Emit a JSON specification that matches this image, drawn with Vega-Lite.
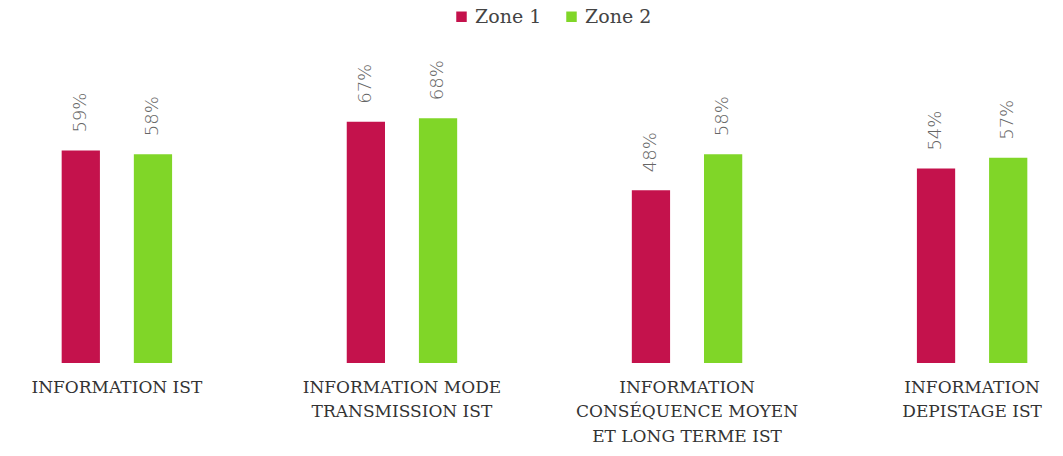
{
  "$schema": "https://vega.github.io/schema/vega-lite/v6.json",
  "width": 1089,
  "height": 324,
  "autosize": "none",
  "padding": {"left": 0, "right": 0, "top": 39, "bottom": 93},
  "background": "white",
  "data": {
    "values": [
      {"category": "INFORMATION IST", "zone": "Zone 1", "value": 0.59},
      {"category": "INFORMATION IST", "zone": "Zone 2", "value": 0.58},
      {"category": "INFORMATION MODE\nTRANSMISSION IST", "zone": "Zone 1", "value": 0.67},
      {"category": "INFORMATION MODE\nTRANSMISSION IST", "zone": "Zone 2", "value": 0.68},
      {"category": "INFORMATION\nCONSÉQUENCE MOYEN\nET LONG TERME IST", "zone": "Zone 1", "value": 0.48},
      {"category": "INFORMATION\nCONSÉQUENCE MOYEN\nET LONG TERME IST", "zone": "Zone 2", "value": 0.58},
      {"category": "INFORMATION\nDEPISTAGE IST", "zone": "Zone 1", "value": 0.54},
      {"category": "INFORMATION\nDEPISTAGE IST", "zone": "Zone 2", "value": 0.57}
    ]
  },
  "encoding": {
    "x": {
      "field": "category",
      "type": "nominal",
      "sort": null,
      "scale": {"paddingInner": 0.4, "paddingOuter": 0.11},
      "axis": {
        "title": null,
        "labelAngle": 0,
        "domain": false,
        "ticks": false,
        "labelPadding": 16,
        "labelFont": "DejaVu Serif",
        "labelFontSize": 17,
        "labelColor": "#333333",
        "labelLineHeight": 24.5,
        "labelLimit": 0,
        "labelExpr": "split(datum.value, '\\n')"
      }
    },
    "xOffset": {
      "field": "zone",
      "type": "nominal",
      "scale": {"paddingInner": 0.47, "paddingOuter": 0.42}
    },
    "y": {
      "field": "value",
      "type": "quantitative",
      "scale": {"domain": [0, 0.9]},
      "axis": null
    }
  },
  "layer": [
    {
      "mark": {"type": "bar"},
      "encoding": {
        "color": {
          "field": "zone",
          "type": "nominal",
          "scale": {"domain": ["Zone 1", "Zone 2"], "range": ["#c4124c", "#80d628"]},
          "legend": {
            "title": null,
            "orient": "none",
            "legendX": 452,
            "legendY": -32,
            "direction": "horizontal",
            "symbolType": "square",
            "symbolSize": 110,
            "symbolStrokeWidth": 0,
            "labelFont": "DejaVu Serif",
            "labelFontSize": 19,
            "labelColor": "#444444",
            "columnPadding": 20
          }
        }
      }
    },
    {
      "mark": {
        "type": "text",
        "angle": 270,
        "align": "left",
        "baseline": "middle",
        "dx": 18,
        "font": "DejaVu Sans",
        "fontSize": 18,
        "fontWeight": 300,
        "color": "#666666"
      },
      "encoding": {
        "text": {"field": "value", "type": "quantitative", "format": ".0%"}
      }
    }
  ],
  "config": {"view": {"stroke": null}}
}
